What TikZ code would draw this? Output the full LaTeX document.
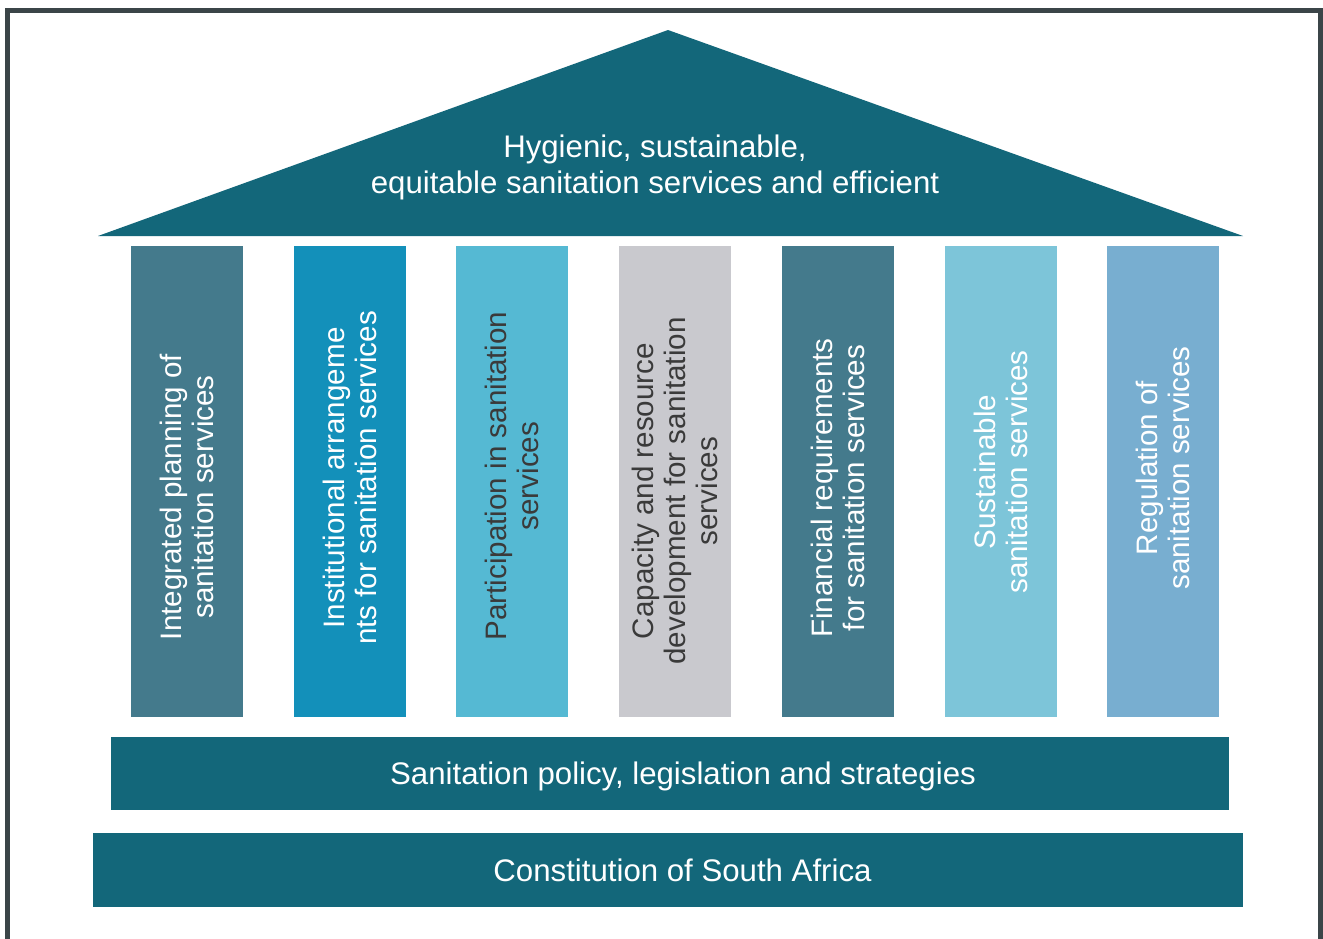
\documentclass[tikz,border=0pt]{standalone}
\usepackage{fontspec}
\setmainfont{Liberation Sans}
\usetikzlibrary{positioning}

\definecolor{roofteal}{HTML}{13677A}
\definecolor{framegray}{HTML}{3B4548}
\definecolor{pillarA}{HTML}{447A8C}
\definecolor{pillarB}{HTML}{1390BA}
\definecolor{pillarC}{HTML}{55B9D3}
\definecolor{pillarD}{HTML}{C9C9CE}
\definecolor{pillarE}{HTML}{7DC5D9}
\definecolor{pillarF}{HTML}{78AED0}
\definecolor{darktext}{HTML}{3A3A3A}

\tikzset{
  pillar/.style={draw=none, minimum width=56pt, minimum height=235.5pt, inner sep=0pt},
  pillartext/.style={rotate=90, align=center, inner sep=0pt, font=\fontsize{14.8}{16}\selectfont},
  slab/.style={draw=none, fill=roofteal, inner sep=0pt},
  slabtext/.style={text=white, inner sep=0pt, font=\fontsize{15.6}{18}\selectfont}
}

\begin{document}
\begin{tikzpicture}[x=0.5pt, y=-0.5pt]
    \useasboundingbox (0,0) rectangle (1323,938);
    \fill[white] (0,0) rectangle (1323,938);
    \draw[framegray, line width=2.5pt] (7,960) -- (7,10) -- (1320,10) -- (1320,960);

    % roof
    \fill[roofteal] (98,236) -- (668,30) -- (1243,236) -- cycle;
    \node[slabtext, align=center] (goal) at (655,167)
      {Hygienic, sustainable,\\equitable sanitation services and efficient};

    % pillars
    \foreach \i/\xc/\ty/\col/\tcol/\txt in {
        1/187/497/pillarA/white/{Integrated planning of\\sanitation services},
        2/350/478/pillarB/white/{Institutional arrangeme\\nts for sanitation services},
        3/512/476/pillarC/darktext/{Participation in sanitation\\services},
        4/675/491/pillarD/darktext/{Capacity and resource\\development for sanitation\\services},
        5/838/488/pillarA/white/{Financial requirements\\for sanitation services},
        6/1001/472/pillarE/white/{Sustainable\\sanitation services},
        7/1163/468/pillarF/white/{Regulation of\\sanitation services}} {
      \node[pillar, fill=\col] (p\i) at (\xc,481.5) {};
      \node[pillartext, text=\tcol] (t\i) at (\xc,\ty) {\txt};
    }

    % foundation
    \node[slab, minimum width=559pt, minimum height=36.5pt] (policy) at (670,773.5) {};
    \node[slabtext] (policytext) at (683,776) {Sanitation policy, legislation and strategies};
    \node[slab, minimum width=575pt, minimum height=37pt] (constitution) at (668,870) {};
    \node[slabtext] (constitutiontext) at (682.5,870) {Constitution of South Africa};
  \end{tikzpicture}
\end{document}
